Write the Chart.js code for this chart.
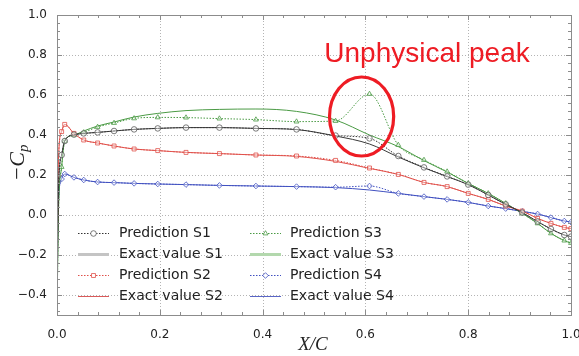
<!DOCTYPE html>
<html>
<head>
<meta charset="utf-8">
<script src="https://cdn.jsdelivr.net/npm/chart.js@4/dist/chart.umd.min.js"></script>
<style>
  html, body { margin: 0; padding: 0; background: #fff; }
  #wrap { width: 579px; height: 356px; }
</style>
</head>
<body>
<div id="wrap"><canvas id="chart" width="579" height="356"></canvas></div>
<script>
// chordwise stations of the predicted samples (markers)
const xPred = [0, 0.003, 0.009, 0.015, 0.033, 0.052, 0.079, 0.111, 0.150, 0.196, 0.251, 0.316, 0.387,
  0.466, 0.542, 0.608, 0.664, 0.714, 0.759, 0.800, 0.839, 0.873, 0.905, 0.935, 0.961, 0.987, 1.0];
const predS1 = [-0.45, 0.14, 0.30, 0.37, 0.402, 0.408, 0.413, 0.42, 0.428, 0.433, 0.437, 0.437, 0.433,
  0.428, 0.397, 0.383, 0.295, 0.238, 0.193, 0.152, 0.10, 0.053, 0.012, -0.033, -0.07, -0.10, -0.108];
const predS2 = [-0.30, 0.29, 0.417, 0.453, 0.408, 0.375, 0.36, 0.345, 0.33, 0.322, 0.313, 0.307, 0.30,
  0.295, 0.273, 0.235, 0.203, 0.163, 0.142, 0.108, 0.078, 0.045, 0.02, -0.017, -0.042, -0.062, -0.068];
const predS3 = [-0.50, 0.03, 0.24, 0.37, 0.40, 0.413, 0.44, 0.46, 0.483, 0.488, 0.487, 0.482, 0.477,
  0.467, 0.47, 0.605, 0.35, 0.275, 0.217, 0.158, 0.108, 0.058, 0.008, -0.042, -0.092, -0.128, -0.14];
const predS4 = [-0.22, 0.08, 0.18, 0.205, 0.188, 0.175, 0.165, 0.162, 0.158, 0.155, 0.152, 0.148, 0.145,
  0.142, 0.139, 0.145, 0.108, 0.092, 0.078, 0.063, 0.045, 0.032, 0.018, 0.005, -0.013, -0.03, -0.035];

// reference solution
const xExact = [0, 0.003, 0.009, 0.015, 0.033, 0.052, 0.079, 0.111, 0.150, 0.196, 0.251, 0.316, 0.387,
  0.466, 0.542, 0.608, 0.664, 0.714, 0.759, 0.800, 0.839, 0.873, 0.905, 0.935, 0.961, 0.987, 1.0];
const exactS1 = [-0.45, 0.14, 0.30, 0.37, 0.40, 0.408, 0.413, 0.42, 0.428, 0.433, 0.437, 0.437, 0.433,
  0.427, 0.395, 0.355, 0.29, 0.236, 0.192, 0.152, 0.10, 0.053, 0.012, -0.033, -0.07, -0.10, -0.108];
const exactS2 = [-0.30, 0.29, 0.417, 0.453, 0.408, 0.375, 0.36, 0.345, 0.33, 0.322, 0.313, 0.307, 0.30,
  0.293, 0.268, 0.233, 0.203, 0.163, 0.142, 0.108, 0.078, 0.045, 0.02, -0.017, -0.042, -0.062, -0.068];
const exactS3 = [-0.50, 0.03, 0.24, 0.37, 0.40, 0.42, 0.445, 0.465, 0.49, 0.508, 0.522, 0.528, 0.53,
  0.518, 0.475, 0.40, 0.342, 0.272, 0.215, 0.158, 0.108, 0.058, 0.008, -0.042, -0.092, -0.128, -0.14];
const exactS4 = [-0.22, 0.08, 0.18, 0.205, 0.188, 0.175, 0.165, 0.162, 0.158, 0.155, 0.152, 0.148, 0.145,
  0.142, 0.137, 0.125, 0.108, 0.092, 0.078, 0.063, 0.045, 0.032, 0.018, 0.005, -0.013, -0.03, -0.035];

const xTicks = [0, 0.2, 0.4, 0.6, 0.8, 1.0];
const yTicks = [-0.4, -0.2, 0, 0.2, 0.4, 0.6, 0.8, 1.0];
const seriesLabels = ["Prediction S1", "Exact value S1", "Prediction S2", "Exact value S2",
  "Prediction S3", "Exact value S3", "Prediction S4", "Exact value S4"];

const pts = (xs, ys) => xs.map((x, i) => ({ x, y: ys[i] }));
const fmt = (v) => (Math.abs(v) < 1e-9 ? "0.0" : (v < 0 ? "\u2212" : "") + Math.abs(v).toFixed(1));

const MARK_R = 2.8;

const pred = (label, data, line, mark, style) => ({
  label, data, borderColor: line, borderWidth: 1, borderDash: [1.5, 1.5],
  pointStyle: style, pointRadius: (c) => (c.dataIndex < 2 ? 0 : MARK_R),
  pointBorderColor: mark, pointBorderWidth: 0.8, pointBackgroundColor: "rgba(255,255,255,0.4)",
  cubicInterpolationMode: "monotone", fill: false,
});
const exact = (label, data, line, legendColor, legendWidth) => ({
  label, data, borderColor: line, borderWidth: 1, pointRadius: 0,
  cubicInterpolationMode: "monotone", fill: false, legendColor, legendWidth,
});

// dotted grid, grey frame and inward ticks on all sides
const frame = {
  id: "frame",
  beforeDatasetsDraw(chart) {
    const { ctx, chartArea: a, scales: { x, y } } = chart;
    ctx.save();
    ctx.strokeStyle = "#b4b4b4";
    ctx.lineWidth = 1;
    ctx.setLineDash([1, 2]);
    ctx.beginPath();
    xTicks.forEach((v) => {
      const px = Math.round(x.getPixelForValue(v)) + 0.5;
      ctx.moveTo(px, a.top); ctx.lineTo(px, a.bottom);
    });
    yTicks.forEach((v) => {
      const py = Math.round(y.getPixelForValue(v)) + 0.5;
      ctx.moveTo(a.left, py); ctx.lineTo(a.right, py);
    });
    ctx.stroke();
    ctx.restore();
  },
  afterDatasetsDraw(chart) {
    const { ctx, chartArea: a, scales: { x, y } } = chart;
    ctx.save();
    ctx.strokeStyle = "#8c8c8c";
    ctx.lineWidth = 1;
    ctx.beginPath();
    for (let k = 0; k <= 25; k++) {
      const px = Math.round(x.getPixelForValue(k * 0.04)) + 0.5;
      const len = k % 5 === 0 ? 5 : 3;
      ctx.moveTo(px, a.bottom); ctx.lineTo(px, a.bottom - len);
      ctx.moveTo(px, a.top); ctx.lineTo(px, a.top + len);
    }
    for (let k = -12; k <= 25; k++) {
      const py = Math.round(y.getPixelForValue(k * 0.04)) + 0.5;
      const len = k % 5 === 0 ? 5 : 3;
      ctx.moveTo(a.left, py); ctx.lineTo(a.left + len, py);
      ctx.moveTo(a.right, py); ctx.lineTo(a.right - len, py);
    }
    ctx.stroke();
    ctx.strokeRect(Math.round(a.left) + 0.5, Math.round(a.top) + 0.5,
      Math.round(a.right - a.left), Math.round(a.bottom - a.top));
    ctx.restore();
  },
};

// two-column legend in the lower left of the plot
const legendBox = {
  id: "legendBox",
  afterDatasetsDraw(chart) {
    const { ctx } = chart;
    const cols = [{ x0: 78, x1: 109, tx: 119 }, { x0: 250, x1: 281, tx: 290 }];
    const rows = [233, 254, 275, 296];
    ctx.save();
    chart.data.datasets.forEach((ds, i) => {
      const c = cols[i < 4 ? 0 : 1];
      const yy = rows[i % 4] + 0.5;
      ctx.strokeStyle = ds.legendColor || ds.borderColor;
      ctx.lineWidth = ds.legendWidth || ds.borderWidth;
      ctx.setLineDash(ds.borderDash || []);
      ctx.beginPath();
      ctx.moveTo(c.x0, yy); ctx.lineTo(c.x1, yy);
      ctx.stroke();
      ctx.setLineDash([]);
      if (ds.pointStyle) {
        ctx.fillStyle = "#fff";
        ctx.strokeStyle = ds.pointBorderColor;
        ctx.lineWidth = 0.8;
        Chart.helpers.drawPoint(ctx, { pointStyle: ds.pointStyle, radius: MARK_R, borderWidth: 0.8 },
          (c.x0 + c.x1) / 2, yy);
      }
      ctx.fillStyle = "#222";
      ctx.font = "14px 'DejaVu Sans'";
      ctx.textBaseline = "middle";
      ctx.fillText(ds.label, c.tx, yy);
    });
    ctx.restore();
  },
};

// axis titles and the peak annotation
const labels = {
  id: "labels",
  afterDraw(chart) {
    const { ctx, scales: { x, y } } = chart;
    ctx.save();
    ctx.fillStyle = "#222";
    ctx.font = "italic 19px 'Liberation Serif'";
    ctx.textAlign = "center";
    ctx.textBaseline = "alphabetic";
    ctx.fillText("X/C", 313, 350);

    ctx.translate(24, 163);
    ctx.rotate(-Math.PI / 2);
    ctx.font = "italic 22px 'Liberation Serif'";
    const main = "\u2212C";
    const w1 = ctx.measureText(main).width;
    ctx.font = "italic 15px 'Liberation Serif'";
    const w2 = ctx.measureText("p").width;
    const start = -(w1 + w2) / 2;
    ctx.textAlign = "left";
    ctx.font = "italic 22px 'Liberation Serif'";
    ctx.fillText(main, start, 0);
    ctx.font = "italic 15px 'Liberation Serif'";
    ctx.fillText("p", start + w1, 4);
    ctx.restore();

    // ellipse around the spurious bump and its caption
    ctx.save();
    const cx = x.getPixelForValue(0.5926), cy = y.getPixelForValue(0.4925);
    const rx = x.getPixelForValue(0.5926 + 0.0624) - cx;
    const ry = cy - y.getPixelForValue(0.4925 + 0.1975);
    ctx.strokeStyle = "#ee1c24";
    ctx.lineWidth = 3.2;
    ctx.beginPath();
    ctx.ellipse(cx, cy, rx, ry, 0, 0, Math.PI * 2);
    ctx.stroke();
    ctx.fillStyle = "#ee1c24";
    ctx.font = "28px 'Liberation Sans'";
    ctx.textBaseline = "alphabetic";
    ctx.fillText("Unphysical peak", x.getPixelForValue(0.52), y.getPixelForValue(0.767));
    ctx.restore();
  },
};

const ctx = document.getElementById("chart").getContext("2d");

const chart = new Chart(ctx, {
  type: "line",
  data: {
    datasets: [
      pred(seriesLabels[0], pts(xPred, predS1), "#333333", "#5a5a5a", "circle"),
      exact(seriesLabels[1], pts(xExact, exactS1), "#3a3a3a", "#c4c4c4", 3),
      pred(seriesLabels[2], pts(xPred, predS2), "#e0504a", "#e0504a", "rect"),
      exact(seriesLabels[3], pts(xExact, exactS2), "#e0504a", "#d95a5a", 1),
      pred(seriesLabels[4], pts(xPred, predS3), "#4a9a44", "#4a9a44", "triangle"),
      exact(seriesLabels[5], pts(xExact, exactS3), "#4a9a44", "#b3d8ad", 3),
      pred(seriesLabels[6], pts(xPred, predS4), "#4050c0", "#4050c0", "rectRot"),
      exact(seriesLabels[7], pts(xExact, exactS4), "#4050c0", "#5a66c6", 1),
    ],
  },
  options: {
    responsive: false,
    animation: false,
    devicePixelRatio: 1,
    layout: { padding: { top: 15, right: 8, left: 0, bottom: 0 } },
    scales: {
      x: {
        type: "linear",
        min: 0,
        max: 1,
        afterBuildTicks: (s) => { s.ticks = xTicks.map((v) => ({ value: v })); },
        afterFit: (s) => { s.height = 41; s.paddingLeft = 0; s.paddingRight = 0; },
        grid: { display: false },
        border: { display: false },
        ticks: {
          callback: (v) => fmt(v),
          maxRotation: 0,
          padding: 5,
          color: "#222",
          font: { family: "DejaVu Sans", size: 12 },
        },
      },
      y: {
        min: -0.5,
        max: 1.0,
        afterBuildTicks: (s) => { s.ticks = yTicks.map((v) => ({ value: v })); },
        afterFit: (s) => { s.width = 57; s.paddingTop = 0; s.paddingBottom = 0; },
        grid: { display: false },
        border: { display: false },
        ticks: {
          callback: (v) => fmt(v),
          padding: 2,
          color: "#222",
          font: { family: "DejaVu Sans", size: 12 },
        },
      },
    },
    plugins: {
      legend: { display: false },
      tooltip: { enabled: false },
    },
  },
  plugins: [frame, legendBox, labels],
});
</script>
</body>
</html>
